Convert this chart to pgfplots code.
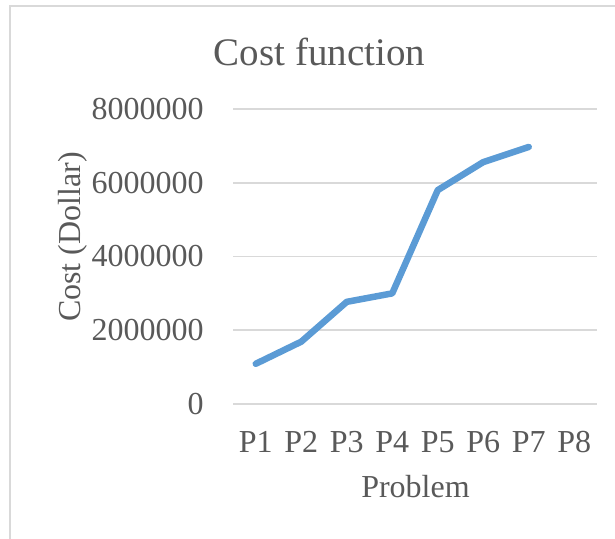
\documentclass[border=0pt]{standalone}
\usepackage{pgfplots}
\pgfplotsset{compat=1.18}
\usepackage{fontspec}
\setmainfont{Liberation Serif}

\definecolor{txtgray}{HTML}{595959}
\definecolor{gridgray}{HTML}{D9D9D9}
\definecolor{costblue}{HTML}{5B9BD5}

\begin{document}
\begin{tikzpicture}
\useasboundingbox (0,0) rectangle (307.5pt,269.5pt);
% chart frame
\draw[gridgray, line width=0.8pt] (5pt,-1pt) -- (5pt,266.5pt) -- (309pt,266.5pt);
\begin{axis}[
  at={(116.5pt,67.5pt)}, anchor=south west,
  scale only axis, width=182pt, height=147.5pt,
  xmin=0.5, xmax=8.5, ymin=0, ymax=8000000,
  xtick={1,...,8},
  xticklabels={P1,P2,P3,P4,P5,P6,P7,P8},
  ytick={0,2000000,4000000,6000000,8000000},
  scaled y ticks=false,
  major tick length=0pt,
  axis line style={draw=none},
  ymajorgrids,
  grid style={gridgray, line width=0.8pt},
  tick label style={font=\fontsize{16}{19}\selectfont, text=txtgray},
  yticklabel style={anchor=east, inner sep=0pt, xshift=-14.5pt,
    /pgf/number format/fixed, /pgf/number format/1000 sep={},
    /pgf/number format/assume math mode=true},
  xticklabel style={anchor=base, inner sep=0pt, yshift=-24.5pt},
  title={Cost function},
  every axis title shift=0pt,
  title style={at={(axis description cs:0.2376,1.1458)}, anchor=base,
    inner sep=0pt, font=\fontsize{19.5}{23}\selectfont, text=txtgray},
  xlabel={Problem},
  every axis x label/.style={at={(axis description cs:0.5014,-0.3186)},
    anchor=base, inner sep=0pt, font=\fontsize{16}{19}\selectfont, text=txtgray},
  ylabel={Cost (Dollar)},
  every axis y label/.style={at={(axis description cs:-0.4176,0.566)},
    rotate=90, anchor=base, inner sep=0pt, font=\fontsize{16}{19}\selectfont, text=txtgray},
  clip=false,
]
\addplot[costblue, line width=3.25pt, line cap=round, line join=round, mark=none]
  coordinates {(1,1090000) (2,1690000) (3,2770000) (4,3000000)
               (5,5800000) (6,6560000) (7,6970000)};
\end{axis}
\end{tikzpicture}
\end{document}
